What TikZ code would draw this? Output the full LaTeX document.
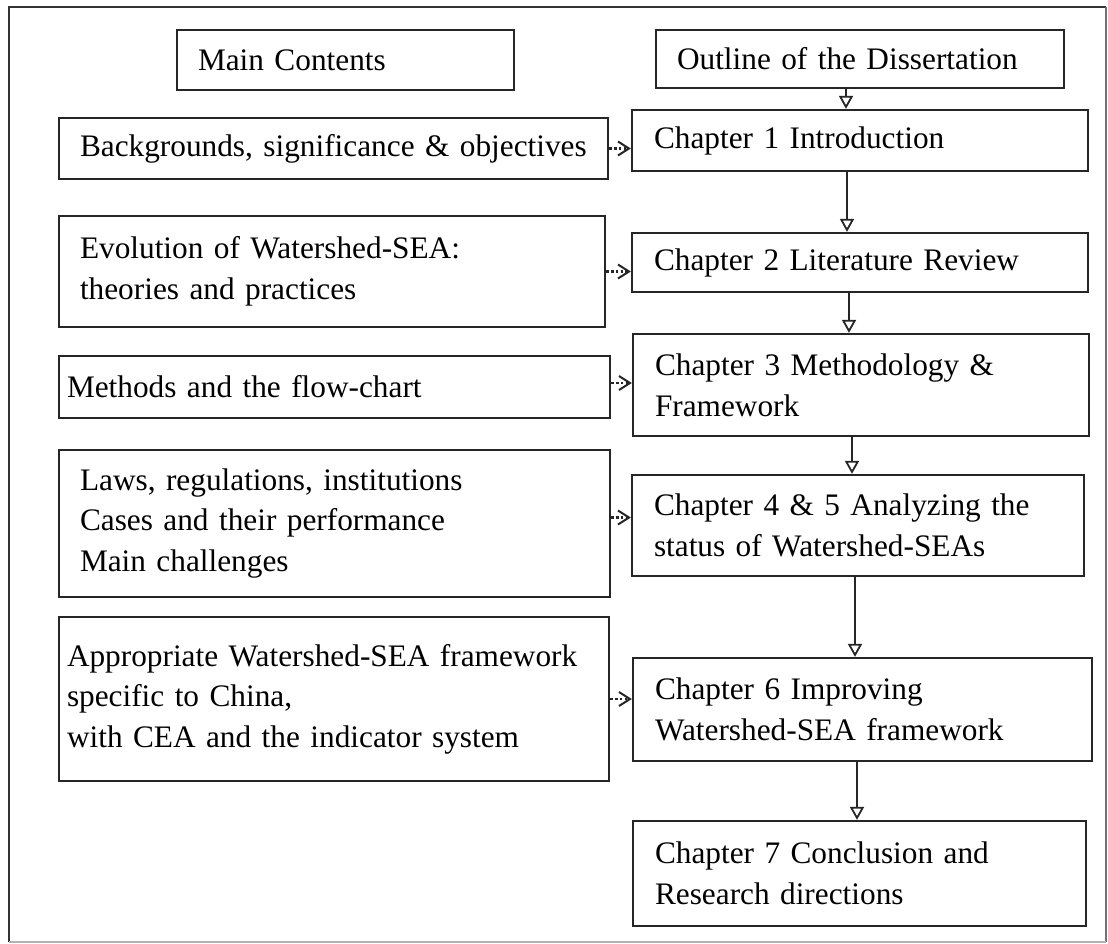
\documentclass[tikz,border=0pt]{standalone}
\usepackage{fontspec}
\setmainfont{Liberation Serif}
\usetikzlibrary{arrows.meta}
\hyphenpenalty=10000
\exhyphenpenalty=10000
\begin{document}
\begin{tikzpicture}[x=0.5pt,y=-0.5pt,
  box/.style={draw=black!85, line width=1.15pt, align=left, inner ysep=0pt,
    font=\fontsize{15.65}{20.3}\selectfont},
  flow/.style={draw=black!85, line width=0.9pt,
    -{Triangle[open,length=6.5pt,width=7pt,line width=0.9pt]}},
  cross/.style={draw=black!85, line width=1.1pt, dash pattern=on 1.3pt off 1.1pt,
    -{Straight Barb[length=5.5pt,width=7pt,line width=1pt]}},
]
\useasboundingbox (0,0) rectangle (1108,943);

% outer frame
\draw[black!80, line width=0.9pt] (9,942) -- (9,7) -- (1106,7);
\draw[black!55, line width=0.8pt] (1106,7) -- (1106,942);
\draw[black!30, line width=0.8pt] (9,942) -- (1106,942);

% column headers
\node[box, minimum width=168.5pt, minimum height=30pt, inner xsep=10.5pt, text width=147.5pt]
  (MC) at (345.5,60) {Main Contents};
\node[box, minimum width=204pt, minimum height=29pt, inner xsep=10.5pt, text width=183pt]
  (OD) at (860,59) {Outline of the Dissertation};

% main contents column
\node[box, minimum width=274.5pt, minimum height=30.5pt, inner xsep=10.5pt, text width=253.5pt]
  (BG) at (333.5,148.5) {Backgrounds, significance \& objectives};
\node[box, minimum width=273pt, minimum height=55.5pt, inner xsep=10.5pt, text width=252pt]
  (EV) at (332,271.5) {Evolution of Watershed-SEA:\\theories and practices};
\node[box, minimum width=275.5pt, minimum height=31pt, inner xsep=4pt, text width=267.5pt]
  (ME) at (334.5,387) {Methods and the flow-chart};
\node[box, minimum width=275.5pt, minimum height=73.5pt, inner xsep=10.5pt, text width=254.5pt]
  (LA) at (334.5,523.5) {Laws, regulations, institutions\\Cases and their performance\\Main challenges};
\node[box, minimum width=275pt, minimum height=82pt, inner xsep=4pt, text width=267pt]
  (AP) at (334,699) {\raisebox{3pt}{\parbox[b]{267pt}{Appropriate Watershed-SEA framework\\specific to China,\\with CEA and the indicator system}}};

% dissertation outline column
\node[box, minimum width=228pt, minimum height=30.5pt, inner xsep=11pt, text width=206pt]
  (C1) at (860,140.5) {Chapter 1 Introduction};
\node[box, minimum width=228pt, minimum height=29.5pt, inner xsep=11pt, text width=206pt]
  (C2) at (860,262.5) {Chapter 2 Literature Review};
\node[box, minimum width=228pt, minimum height=51pt, inner xsep=11pt, text width=206pt]
  (C3) at (861,385) {Chapter 3 Methodology \&\\Framework};
\node[box, minimum width=226pt, minimum height=50.5pt, inner xsep=11pt, text width=204pt]
  (C4) at (858,525.5) {Chapter 4 \& 5 Analyzing the\\status of Watershed-SEAs};
\node[box, minimum width=229.5pt, minimum height=51.5pt, inner xsep=11pt, text width=207.5pt]
  (C6) at (862.5,709.5) {Chapter 6 Improving\\Watershed-SEA framework};
\node[box, minimum width=226.5pt, minimum height=52.5pt, inner xsep=11pt, text width=204.5pt]
  (C7) at (859.5,873.5) {Chapter 7 Conclusion and\\Research directions};

% horizontal positions of the chapter arrows
\coordinate (s1) at (846,0);
\coordinate (s2) at (847,0);
\coordinate (s3) at (849,0);
\coordinate (s4) at (852,0);
\coordinate (s5) at (855,0);
\coordinate (s6) at (857,0);

\draw[flow] (OD.south -| s1) -- (C1.north -| s1);
\draw[flow] (C1.south -| s2) -- (C2.north -| s2);
\draw[flow] (C2.south -| s3) -- (C3.north -| s3);
\draw[flow] (C3.south -| s4) -- (C4.north -| s4);
\draw[flow] (C4.south -| s5) -- (C6.north -| s5);
\draw[flow] (C6.south -| s6) -- (C7.north -| s6);

% links from contents to chapters
\draw[cross] (BG.east) -- (BG.east -| C1.west);
\draw[cross] (EV.east) -- (EV.east -| C2.west);
\draw[cross] ([yshift=2pt]ME.east) -- ([yshift=2pt]ME.east -| C3.west);
\draw[cross] ([yshift=3pt]LA.east) -- ([yshift=3pt]LA.east -| C4.west);
\draw[cross] (AP.east) -- (AP.east -| C6.west);
\end{tikzpicture}
\end{document}
